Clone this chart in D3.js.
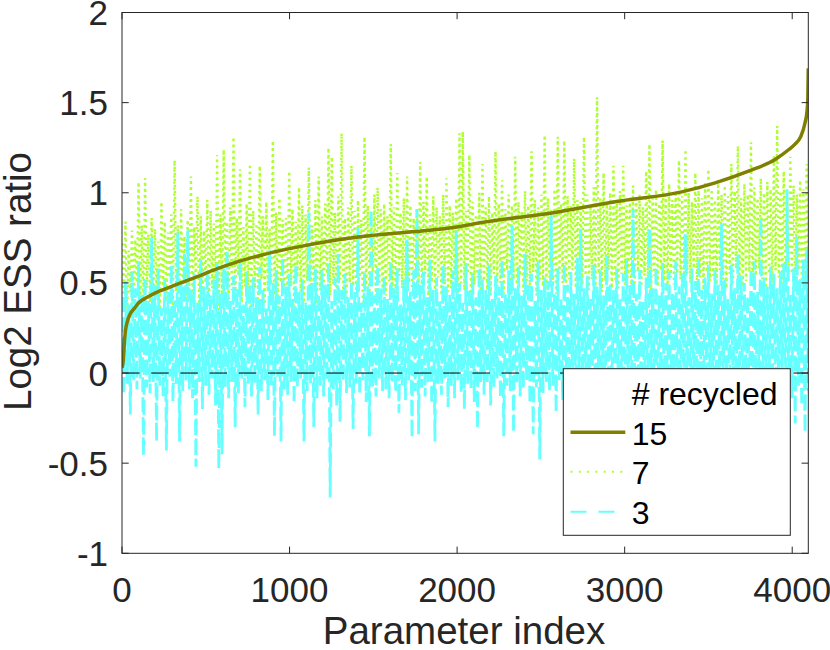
<!DOCTYPE html>
<html>
<head>
<meta charset="utf-8">
<script src="https://cdn.jsdelivr.net/npm/d3@7"></script>
<style>
    html, body { margin: 0; padding: 0; background: #fff; }
    svg { display: block; }
    text { font-family: "Liberation Sans", Arial, Helvetica, sans-serif; }
</style>
</head>
<body>
<svg id="chart" width="830" height="650"></svg>
<script>
// values
var xTicks = [0, 1000, 2000, 3000, 4000];
var yTicks = [-1, -0.5, 0, 0.5, 1, 1.5, 2];
var legendTitle = '# recycled';
var legendLabels = ['15', '7', '3'];

// 15 recycled: sorted curve, [parameter index, log2 ratio]
var curve15Index = [1, 5, 10, 15, 20, 30, 50, 75, 100, 150, 200, 267, 350, 450, 557, 665, 836,
    1000, 1262, 1461, 1750, 2000, 2147, 2545, 2943, 3341, 3540, 3739, 3898, 3980, 4017, 4050,
    4077, 4088, 4093, 4096];
var curve15Value = [0.03, 0.05, 0.10, 0.18, 0.23, 0.28, 0.33, 0.36, 0.39, 0.42, 0.445, 0.47, 0.50,
    0.535, 0.575, 0.61, 0.655, 0.69, 0.735, 0.76, 0.785, 0.81, 0.835, 0.885, 0.95, 1.005, 1.055,
    1.12, 1.185, 1.24, 1.27, 1.31, 1.39, 1.45, 1.52, 1.69];

// 7 recycled: noisy series, evenly spread over the parameter index
var recycled7 = [
    0.72, 0.38, 0.84, 0.31, 0.68, 0.45, 0.79, 0.36, 0.74, 0.50, 1.06, 0.41, 0.82, 0.34, 1.08, 0.47, 0.77, 0.39, 0.86, 0.44,
    0.80, 0.42, 0.73, 0.35, 0.95, 0.48, 0.84, 0.40, 0.78, 0.53, 0.88, 0.37, 1.18, 0.45, 0.82, 0.33, 0.91, 0.49, 0.76, 0.41,
    0.85, 0.46, 1.09, 0.39, 0.81, 0.52, 0.98, 0.36, 0.87, 0.44, 0.79, 0.50, 0.96, 0.38, 0.90, 0.47, 0.83, 0.42, 1.21, 0.35,
    0.88, 0.43, 1.24, 0.51, 0.84, 0.37, 0.92, 0.46, 1.31, 0.40, 0.86, 0.54, 1.13, 0.39, 0.81, 0.48, 0.94, 0.42, 1.16, 0.36,
    0.90, 0.47, 0.83, 0.41, 1.15, 0.52, 0.87, 0.38, 0.95, 0.45, 0.80, 0.49, 1.29, 0.43, 0.89, 0.36, 0.97, 0.50, 0.85, 0.44,
    0.86, 0.40, 1.12, 0.48, 0.91, 0.37, 0.84, 0.53, 1.03, 0.45, 0.93, 0.39, 0.88, 0.51, 1.14, 0.42, 0.82, 0.47, 0.96, 0.38,
    1.09, 0.46, 0.87, 0.41, 0.94, 0.55, 1.25, 0.43, 1.20, 0.49, 0.89, 0.38, 0.98, 0.52, 1.33, 0.44, 0.86, 0.40, 0.92, 0.50,
    1.15, 0.48, 0.90, 0.42, 0.96, 0.53, 0.85, 0.39, 1.31, 0.47, 0.93, 0.44, 0.88, 0.56, 0.99, 0.41, 1.03, 0.49, 0.91, 0.45,
    0.94, 0.43, 0.87, 0.51, 1.27, 0.46, 0.92, 0.40, 1.11, 0.54, 0.89, 0.47, 0.97, 0.42, 1.09, 0.50, 0.93, 0.45, 0.86, 0.52,
    0.91, 0.48, 1.17, 0.44, 0.95, 0.55, 1.09, 0.41, 0.88, 0.50, 0.98, 0.46, 0.92, 0.53, 0.87, 0.43, 0.99, 0.49, 1.08, 0.45,
    0.93, 0.47, 0.89, 0.52, 0.97, 0.44, 1.33, 0.50, 1.34, 0.46, 0.90, 0.55, 1.21, 0.42, 0.95, 0.49, 0.88, 0.53, 1.00, 0.45,
    1.16, 0.51, 0.92, 0.46, 0.98, 0.43, 0.89, 0.55, 1.23, 0.48, 0.94, 0.50, 1.07, 0.44, 0.91, 0.57, 0.99, 0.47, 0.93, 0.52,
    1.20, 0.49, 0.95, 0.54, 0.90, 0.45, 1.01, 0.51, 0.93, 0.47, 1.23, 0.56, 0.96, 0.43, 0.92, 0.52, 0.99, 0.48, 1.32, 0.46,
    0.97, 0.53, 0.91, 0.48, 1.02, 0.44, 1.31, 0.55, 0.94, 0.50, 1.29, 0.46, 0.98, 0.52, 0.93, 0.57, 1.19, 0.47, 0.96, 0.51,
    0.95, 0.49, 1.31, 0.54, 0.99, 0.46, 0.92, 0.52, 1.03, 0.48, 1.53, 0.55, 0.97, 0.45, 1.11, 0.51, 0.94, 0.57, 1.00, 0.47,
    1.15, 0.52, 0.96, 0.47, 1.01, 0.55, 1.15, 0.49, 0.93, 0.53, 0.98, 0.44, 1.04, 0.50, 0.95, 0.56, 0.99, 0.48, 0.92, 0.54,
    1.12, 0.50, 1.27, 0.46, 0.97, 0.54, 1.02, 0.48, 0.94, 0.57, 1.29, 0.51, 0.99, 0.45, 1.05, 0.53, 0.96, 0.49, 1.01, 0.55,
    1.18, 0.52, 0.98, 0.47, 1.24, 0.55, 1.00, 0.50, 0.95, 0.58, 1.11, 0.48, 1.03, 0.53, 0.97, 0.46, 1.06, 0.56, 1.13, 0.51,
    1.02, 0.54, 0.96, 0.49, 1.07, 0.57, 0.99, 0.52, 1.04, 0.47, 0.98, 0.55, 1.16, 0.50, 1.01, 0.58, 1.26, 0.53, 0.97, 0.48,
    1.05, 0.51, 0.99, 0.56, 1.28, 0.49, 1.03, 0.54, 0.97, 0.58, 1.08, 0.52, 1.00, 0.47, 1.06, 0.55, 1.02, 0.50, 1.21, 0.57,
    1.37, 0.53, 1.01, 0.48, 1.12, 0.56, 0.98, 0.51, 1.20, 0.55, 1.04, 0.49, 0.99, 0.57, 1.07, 0.52, 1.02, 0.54, 1.16, 0.50
];

// 3 recycled: noisy series, evenly spread over the parameter index
var recycled3 = [
    0.42, -0.12, 0.51, -0.06, 0.38, -0.23, 0.56, -0.04, 0.47, -0.09, 0.62, -0.03, 0.44, -0.46, 0.53, -0.08, 0.40, -0.11, 0.75, -0.05,
    0.49, -0.38, 0.58, -0.07, 0.36, -0.13, 0.52, -0.43, 0.45, -0.02, 0.60, -0.16, 0.41, -0.06, 0.78, -0.38, 0.50, -0.10, 0.66, -0.04,
    0.79, -0.09, 0.46, -0.14, 0.55, -0.52, 0.39, -0.05, 0.63, -0.20, 0.48, -0.07, 0.57, -0.12, 0.43, -0.03, 0.52, -0.18, 0.61, -0.53,
    0.44, -0.45, 0.58, -0.08, 0.68, -0.14, 0.40, -0.05, 0.54, -0.30, 0.47, -0.11, 0.62, -0.03, 0.38, -0.19, 0.56, -0.07, 0.49, -0.13,
    0.53, -0.06, 0.42, -0.23, 0.59, -0.10, 0.46, -0.04, 0.37, -0.15, 0.68, -0.08, 0.50, -0.35, 0.57, -0.02, 0.43, -0.38, 0.64, -0.09,
    0.48, -0.12, 0.55, -0.05, 0.41, -0.17, 0.60, -0.08, 0.45, -0.03, 0.52, -0.38, 0.39, -0.10, 0.89, -0.06, 0.50, -0.30, 0.58, -0.14,
    0.44, -0.07, 0.57, -0.13, 0.49, -0.04, 0.61, -0.69, 0.40, -0.09, 0.53, -0.18, 0.66, -0.27, 0.46, -0.05, 0.55, -0.11, 0.42, -0.08,
    0.51, -0.31, 0.45, -0.06, 0.81, -0.12, 0.39, -0.04, 0.56, -0.16, 0.48, -0.35, 0.91, -0.08, 0.43, -0.13, 0.59, -0.03, 0.47, -0.10,
    0.54, -0.09, 0.41, -0.14, 0.62, -0.05, 0.47, -0.11, 0.58, -0.22, 0.38, -0.07, 0.52, -0.15, 0.74, -0.04, 0.45, -0.36, 0.57, -0.10,
    0.91, -0.34, 0.49, -0.08, 0.56, -0.13, 0.42, -0.05, 0.63, -0.17, 0.46, -0.38, 0.53, -0.06, 0.40, -0.12, 0.60, -0.03, 0.48, -0.19,
    0.44, -0.07, 0.57, -0.14, 0.79, -0.04, 0.50, -0.11, 0.39, -0.20, 0.61, -0.06, 0.47, -0.09, 0.55, -0.16, 0.42, -0.31, 0.58, -0.05,
    0.52, -0.12, 0.46, -0.05, 0.60, -0.18, 0.41, -0.08, 0.54, -0.03, 0.48, -0.14, 0.63, -0.35, 0.44, -0.07, 0.57, -0.10, 0.82, -0.33,
    0.47, -0.06, 0.59, -0.13, 0.43, -0.09, 0.66, -0.04, 0.50, -0.17, 0.55, -0.34, 0.40, -0.08, 0.62, -0.48, 0.46, -0.11, 0.53, -0.05,
    0.51, -0.10, 0.88, -0.07, 0.45, -0.22, 0.58, -0.04, 0.42, -0.15, 0.61, -0.09, 0.49, -0.18, 0.56, -0.06, 0.44, -0.12, 0.64, -0.03,
    0.80, -0.11, 0.47, -0.05, 0.54, -0.16, 0.41, -0.08, 0.60, -0.21, 0.48, -0.04, 0.57, -0.13, 0.43, -0.09, 0.65, -0.06, 0.50, -0.14,
    0.46, -0.07, 0.58, -0.12, 0.42, -0.04, 0.55, -0.18, 0.63, -0.09, 0.49, -0.15, 0.91, -0.05, 0.44, -0.11, 0.57, -0.20, 0.40, -0.08,
    0.53, -0.13, 0.80, -0.06, 0.47, -0.10, 0.59, -0.17, 0.43, -0.04, 0.61, -0.12, 0.50, -0.08, 0.56, -0.19, 0.45, -0.05, 0.62, -0.11,
    0.48, -0.09, 0.55, -0.14, 0.77, -0.05, 0.42, -0.16, 0.58, -0.07, 0.51, -0.12, 0.64, -0.04, 0.46, -0.18, 0.53, -0.10, 0.60, -0.06,
    0.44, -0.13, 0.57, -0.08, 0.49, -0.15, 0.83, -0.05, 0.52, -0.11, 0.41, -0.17, 0.60, -0.07, 0.47, -0.12, 0.66, -0.04, 0.54, -0.14,
    0.50, -0.06, 0.43, -0.16, 0.58, -0.09, 0.62, -0.12, 0.45, -0.05, 0.86, -0.18, 0.53, -0.08, 0.48, -0.13, 0.59, -0.10, 0.55, -0.07,
    0.47, -0.12, 0.56, -0.06, 0.61, -0.15, 1.02, -0.09, 0.44, -0.14, 0.58, -0.28, 0.76, -0.07, 0.52, -0.18, 0.63, -0.33, 0.69, -0.10
];

var nParams = 4096;
var axisColor = '#262626';
var colors = { c15: '#808000', c7: '#adff2f', c3: '#66ffff' };

var svg = d3.select('#chart');
var plot = { left: 122, right: 808.3, top: 12.5, bottom: 553.3 };

var x = d3.scaleLinear().domain([0, nParams]).range([plot.left, plot.right]);
var y = d3.scaleLinear().domain([-1, 2]).range([plot.bottom, plot.top]);

// noisy series are spread evenly from index 1 to nParams
function spread(values) {
    var step = (nParams - 1) / (values.length - 1);
    return values.map((v, i) => [1 + i * step, v]);
}

var line = d3.line()
    .x(d => x(d[0]))
    .y(d => y(d[1]));

svg.append('defs').append('clipPath')
    .attr('id', 'plotclip')
    .append('rect')
        .attr('x', plot.left)
        .attr('y', plot.top)
        .attr('width', plot.right - plot.left)
        .attr('height', plot.bottom - plot.top);

var g = svg.append('g').attr('clip-path', 'url(#plotclip)');

// NOTE fewer points than the original, so strokes a bit wider and gaps shorter to keep it dense
g.append('path')
    .datum(spread(recycled7))
    .attr('d', line)
    .attr('fill', 'none')
    .attr('stroke', colors.c7)
    .attr('stroke-width', 2.4)
    .attr('stroke-dasharray', '2.4,3.6');

g.append('path')
    .datum(spread(recycled3))
    .attr('d', line)
    .attr('fill', 'none')
    .attr('stroke', colors.c3)
    .attr('stroke-width', 2.8)
    .attr('stroke-dasharray', '15,5');

// zero reference line
g.append('line')
    .attr('x1', x(0))
    .attr('x2', x(nParams))
    .attr('y1', y(0))
    .attr('y2', y(0))
    .attr('stroke', '#000')
    .attr('stroke-width', 1)
    .attr('stroke-dasharray', '17.5,11.7');

g.append('path')
    .datum(d3.zip(curve15Index, curve15Value))
    .attr('d', line.curve(d3.curveMonotoneX))
    .attr('fill', 'none')
    .attr('stroke', colors.c15)
    .attr('stroke-width', 3.5)
    .attr('stroke-linejoin', 'round');

// axes box with inward ticks on all four sides
var tickLen = 6.7;
var axes = svg.append('g')
    .attr('stroke', axisColor)
    .attr('stroke-width', 1)
    .attr('fill', 'none');

axes.append('rect')
    .attr('x', plot.left)
    .attr('y', plot.top)
    .attr('width', plot.right - plot.left)
    .attr('height', plot.bottom - plot.top);

xTicks.forEach(function (t) {
    axes.append('line')
        .attr('x1', x(t)).attr('x2', x(t))
        .attr('y1', plot.bottom).attr('y2', plot.bottom - tickLen);
    axes.append('line')
        .attr('x1', x(t)).attr('x2', x(t))
        .attr('y1', plot.top).attr('y2', plot.top + tickLen);
});

yTicks.forEach(function (t) {
    axes.append('line')
        .attr('x1', plot.left).attr('x2', plot.left + tickLen)
        .attr('y1', y(t)).attr('y2', y(t));
    axes.append('line')
        .attr('x1', plot.right).attr('x2', plot.right - tickLen)
        .attr('y1', y(t)).attr('y2', y(t));
});

svg.append('g').selectAll('text')
    .data(xTicks)
    .enter().append('text')
        .attr('x', d => x(d))
        .attr('y', 601.5)
        .attr('text-anchor', 'middle')
        .attr('font-size', 35)
        .attr('fill', axisColor)
        .text(d => d);

svg.append('g').selectAll('text')
    .data(yTicks)
    .enter().append('text')
        .attr('x', 108)
        .attr('y', d => y(d) + 12.5)
        .attr('text-anchor', 'end')
        .attr('font-size', 35)
        .attr('fill', axisColor)
        .text(d => String(d).replace('\u2212', '-'));

svg.append('text')
    .attr('x', 464)
    .attr('y', 644)
    .attr('text-anchor', 'middle')
    .attr('font-size', 38.5)
    .attr('fill', axisColor)
    .text('Parameter index');

svg.append('text')
    .attr('transform', 'translate(31,281.5) rotate(-90)')
    .attr('text-anchor', 'middle')
    .attr('font-size', 38.5)
    .attr('fill', axisColor)
    .text('Log2 ESS ratio');

// legend
var legend = svg.append('g');
legend.append('rect')
    .attr('x', 563.3)
    .attr('y', 368.7)
    .attr('width', 227)
    .attr('height', 166.6)
    .attr('fill', '#fff')
    .attr('stroke', axisColor)
    .attr('stroke-width', 1);

legend.append('text')
    .attr('x', 631.7)
    .attr('y', 404.5)
    .attr('font-size', 32)
    .attr('fill', '#000')
    .text(legendTitle);

var legendStyles = [
    { color: colors.c15, width: 3.5, dash: null },
    { color: colors.c7, width: 2, dash: '2,6.3' },
    { color: colors.c3, width: 2, dash: '16,12' },
];
var legendRowY = [432.3, 471.7, 511.7];

legendLabels.forEach(function (label, i) {
    var st = legendStyles[i];
    legend.append('line')
        .attr('x1', 570.5)
        .attr('x2', 625.3)
        .attr('y1', legendRowY[i])
        .attr('y2', legendRowY[i])
        .attr('stroke', st.color)
        .attr('stroke-width', st.width)
        .attr('stroke-dasharray', st.dash);
    legend.append('text')
        .attr('x', 631.7)
        .attr('y', legendRowY[i] + 12.5)
        .attr('font-size', 32)
        .attr('fill', '#000')
        .text(label);
});
</script>
</body>
</html>
